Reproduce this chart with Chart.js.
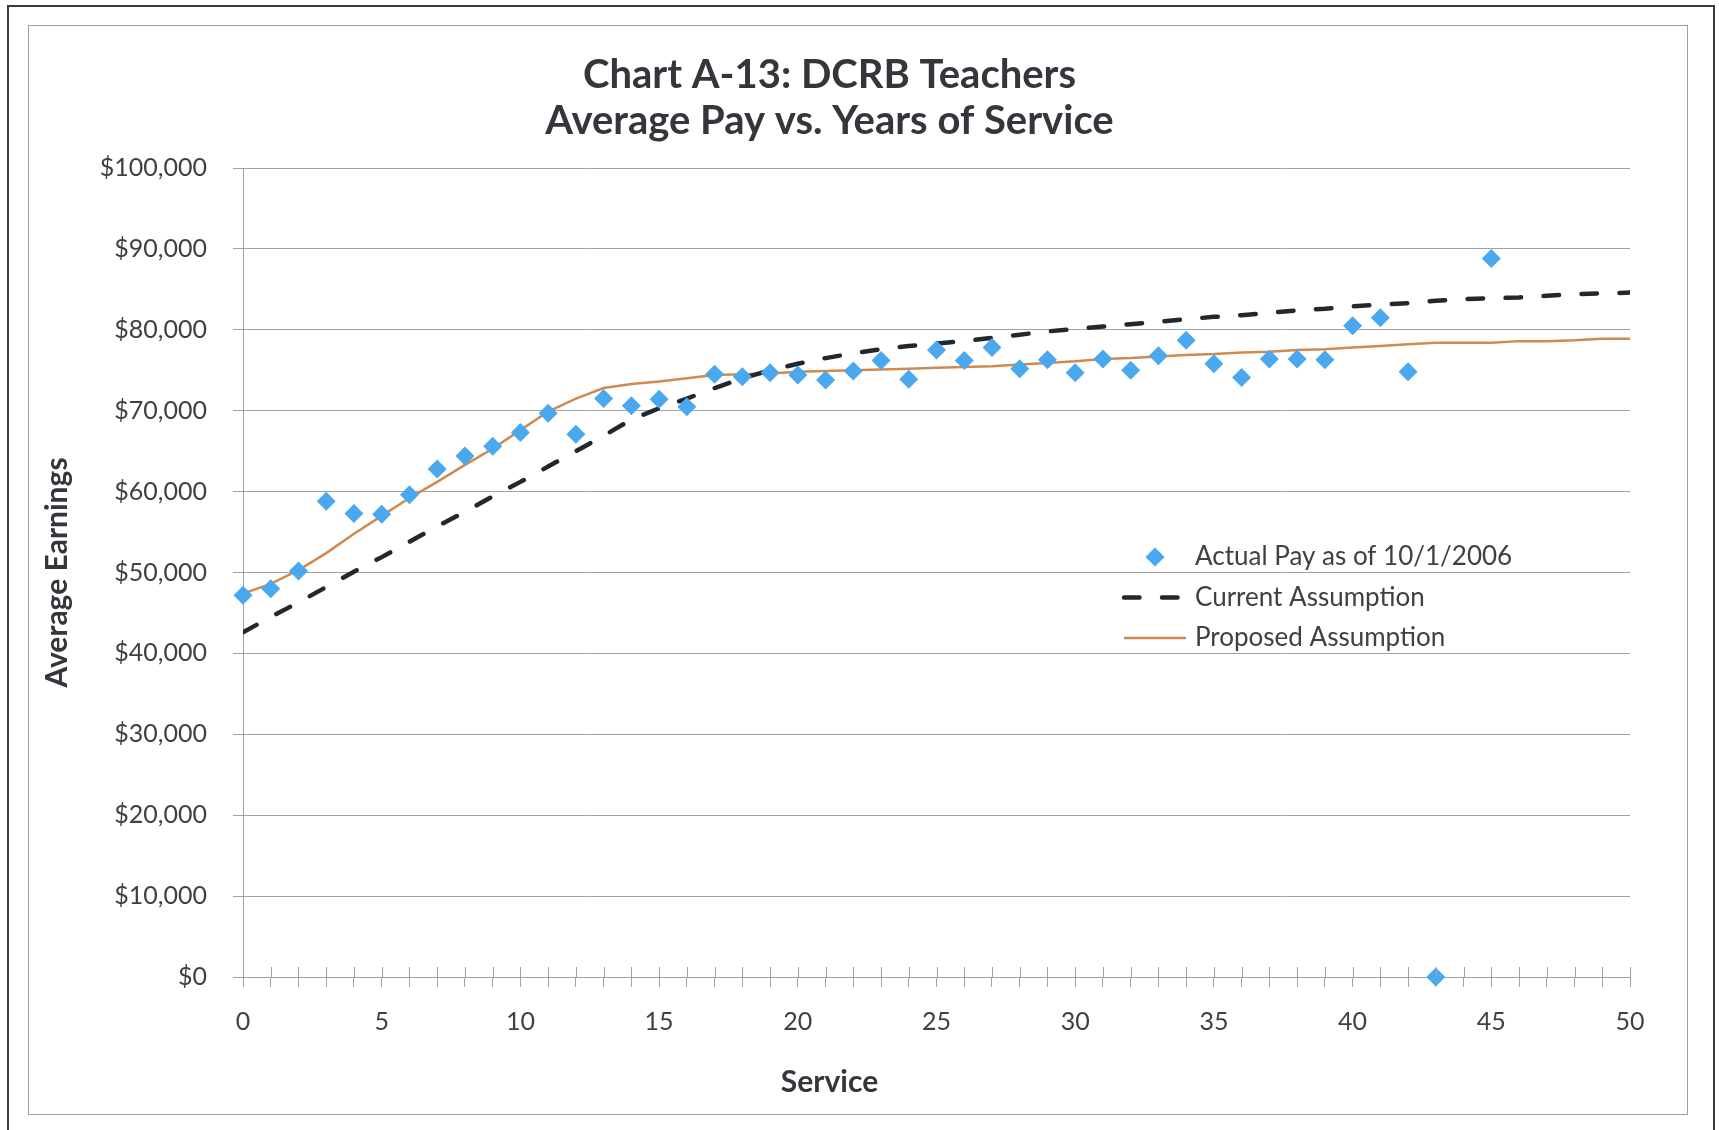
<!DOCTYPE html>
<html>
<head>
<meta charset="utf-8">
<title>Chart A-13: DCRB Teachers</title>
<script src="https://cdn.jsdelivr.net/npm/chart.js@4.4.1/dist/chart.umd.min.js"></script>
<style>
  html, body { margin: 0; padding: 0; background: #fff; }
  body { width: 1719px; height: 1130px; position: relative; overflow: hidden; }
  #page { position: absolute; left: 7px; top: 5px; width: 1708px; height: 1160px; border: 2px solid #3a3a3a; box-sizing: border-box; }
  #frame { position: absolute; left: 28px; top: 25px; width: 1660px; height: 1090px; border: 1px solid #a0a0a0; box-sizing: border-box; }
  #chart { position: absolute; left: 29px; top: 26px; }
</style>
</head>
<body>
<div id="page"></div>
<div id="frame"></div>
<canvas id="chart" width="1658" height="1088"></canvas>
<script>
const serviceYears = [0, 1, 2, 3, 4, 5, 6, 7, 8, 9, 10, 11, 12, 13, 14, 15, 16, 17, 18, 19, 20, 21, 22, 23, 24, 25,
  26, 27, 28, 29, 30, 31, 32, 33, 34, 35, 36, 37, 38, 39, 40, 41, 42, 43, 44, 45, 46, 47, 48, 49, 50];

const actualPay = [47200, 48000, 50200, 58800, 57300, 57200, 59600, 62800, 64400, 65600,
  67300, 69700, 67100, 71500, 70600, 71400, 70500, 74500, 74200, 74700,
  74400, 73800, 74900, 76200, 73900, 77500, 76200, 77800, 75200, 76300,
  74700, 76400, 75000, 76800, 78700, 75800, 74100, 76400, 76400, 76300,
  80500, 81500, 74800, 0, null, 88800, null, null, null, null, null];

const currentAssumption = [42600, 44500, 46300, 48200, 50100, 51900, 53800, 55700, 57500, 59400,
  61200, 63100, 65000, 66900, 68900, 70300, 71500, 72800, 74000, 75000,
  75800, 76500, 77100, 77600, 78000, 78300, 78600, 79000, 79400, 79800,
  80100, 80400, 80700, 81000, 81300, 81600, 81800, 82100, 82400, 82600,
  82900, 83100, 83300, 83600, 83800, 83900, 84000, 84200, 84400, 84500, 84600];

const proposedAssumption = [47400, 48600, 50300, 52400, 54800, 57000, 59200, 61200, 63300, 65300,
  67600, 69900, 71500, 72800, 73300, 73600, 74000, 74400, 74500, 74600,
  74800, 74900, 75000, 75100, 75200, 75300, 75400, 75500, 75700, 75900,
  76100, 76400, 76500, 76700, 76900, 77000, 77200, 77300, 77500, 77600,
  77800, 78000, 78200, 78400, 78400, 78400, 78600, 78600, 78700, 78900, 78900];

const titleLines = ['Chart A-13: DCRB Teachers', 'Average Pay vs. Years of Service'];
const gridGray = '#a3a3a3';
const textGray = '#404040';
const titleGray = '#33373b';

function toPoints(values) {
  return serviceYears.map((x, i) => ({ x: x, y: values[i] }));
}

// x-axis tick marks cross the axis line, Chart.js only draws the lower half
const crossTicks = {
  id: 'crossTicks',
  afterDraw(chart) {
    const scale = chart.scales.x;
    const area = chart.chartArea;
    const c = chart.ctx;
    c.save();
    c.strokeStyle = gridGray;
    c.lineWidth = 1;
    scale.ticks.forEach((t) => {
      const px = Math.round(scale.getPixelForValue(t.value)) + 0.5;
      c.beginPath();
      c.moveTo(px, area.bottom - 10);
      c.lineTo(px, area.bottom);
      c.stroke();
    });
    c.restore();
  }
};

// legend sits inside the plot area, like the Excel original
const insideLegend = {
  id: 'insideLegend',
  afterDraw(chart) {
    const c = chart.ctx;
    const area = chart.chartArea;
    const left = area.left + 879;
    let y = area.top + 389;
    chart.data.datasets.forEach((ds) => {
      c.save();
      if (ds.showLine === false) {
        const r = ds.pointRadius;
        c.fillStyle = ds.pointBackgroundColor;
        c.beginPath();
        c.moveTo(left + 33, y - r);
        c.lineTo(left + 33 + r, y);
        c.lineTo(left + 33, y + r);
        c.lineTo(left + 33 - r, y);
        c.closePath();
        c.fill();
      } else {
        c.strokeStyle = ds.borderColor;
        c.lineWidth = ds.borderWidth;
        c.lineCap = ds.borderCapStyle || 'butt';
        c.setLineDash(ds.borderDash || []);
        c.beginPath();
        c.moveTo(left + 2, y);
        c.lineTo(left + 64, y);
        c.stroke();
      }
      c.setLineDash([]);
      c.fillStyle = textGray;
      c.font = '26px Lato';
      c.textBaseline = 'middle';
      c.fillText(ds.label, left + 73, y);
      c.restore();
      y += 40.5;
    });
  }
};

const ctx = document.getElementById('chart').getContext('2d');

new Chart(ctx, {
  type: 'line',
  data: {
    datasets: [
      {
        label: 'Actual Pay as of 10/1/2006',
        data: toPoints(actualPay),
        showLine: false,
        pointStyle: 'rectRot',
        pointRadius: 9.5,
        pointHoverRadius: 9.5,
        pointBackgroundColor: '#4aa8ee',
        pointBorderColor: '#4aa8ee',
        pointBorderWidth: 0,
        clip: false
      },
      {
        label: 'Current Assumption',
        data: toPoints(currentAssumption),
        borderColor: '#24282c',
        borderWidth: 4.5,
        borderDash: [15.5, 22.5],
        borderCapStyle: 'round',
        pointRadius: 0,
        tension: 0
      },
      {
        label: 'Proposed Assumption',
        data: toPoints(proposedAssumption),
        borderColor: '#cf8b4f',
        borderWidth: 2.5,
        pointRadius: 0,
        tension: 0
      }
    ]
  },
  options: {
    responsive: false,
    animation: false,
    layout: { padding: { left: 0, right: 57, top: 0, bottom: 0 } },
    plugins: {
      legend: { display: false },
      tooltip: { enabled: false },
      title: {
        display: true,
        text: titleLines,
        color: titleGray,
        font: { family: 'Lato', size: 40, weight: 'bold', lineHeight: 1.15 },
        padding: { top: 26, bottom: 24 }
      },
      subtitle: {
        display: true,
        position: 'bottom',
        text: 'Service',
        color: titleGray,
        font: { family: 'Lato', size: 30, weight: 'bold', lineHeight: 1.2 },
        padding: { top: 17, bottom: 14 }
      }
    },
    scales: {
      x: {
        type: 'linear',
        min: 0,
        max: 50,
        afterFit: (scale) => { scale.height = 70; },
        ticks: {
          stepSize: 1,
          autoSkip: false,
          maxRotation: 0,
          padding: 20,
          color: textGray,
          font: { family: 'Lato', size: 25 },
          callback: (v) => (v % 5 === 0 ? v : '')
        },
        grid: { drawOnChartArea: false, drawTicks: true, tickLength: 10, color: gridGray },
        border: { color: gridGray }
      },
      y: {
        min: 0,
        max: 100000,
        afterFit: (scale) => { scale.width = 214; },
        ticks: {
          stepSize: 10000,
          padding: 26,
          color: textGray,
          font: { family: 'Lato', size: 25 },
          callback: (v) => '$' + v.toLocaleString('en-US')
        },
        grid: { color: gridGray, tickLength: 10 },
        border: { color: gridGray },
        title: {
          display: true,
          text: 'Average Earnings',
          color: titleGray,
          font: { family: 'Lato', size: 30, weight: 'bold', lineHeight: 1.2 },
          padding: { top: 10, bottom: 0 }
        }
      }
    }
  },
  plugins: [crossTicks, insideLegend]
});
</script>
</body>
</html>
